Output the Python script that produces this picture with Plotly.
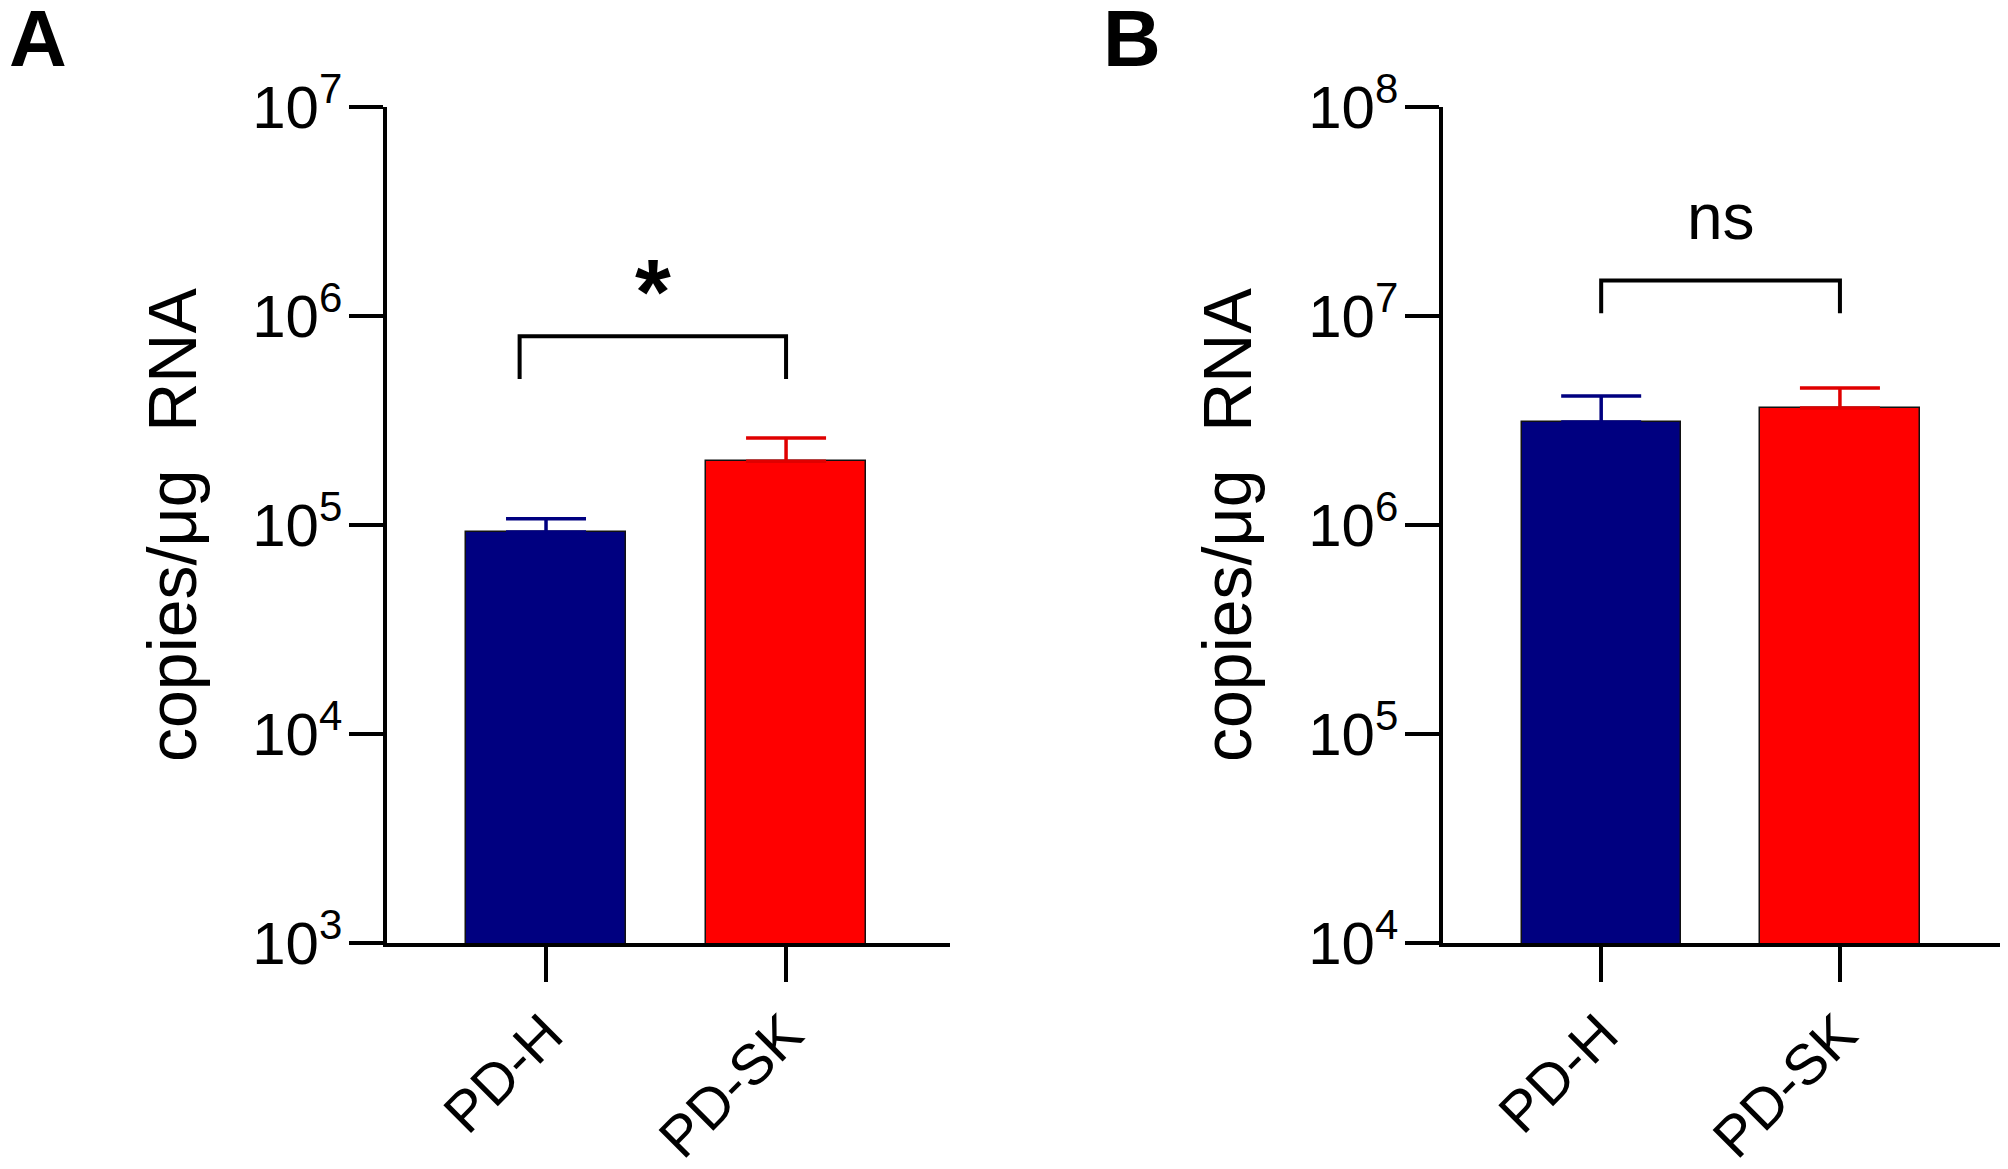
import math
import plotly.graph_objects as go

# ---- data ----
categories = ["PD-H", "PD-SK"]
colors = ["#000080", "#ff0000"]
err_colors = ["#000080", "#e00000"]

a_means = [92500, 202000]
a_upper = [107000, 261000]
b_means = [3.11e6, 3.63e6]
b_upper = [4.14e6, 4.53e6]

a_tickvals = [1e3, 1e4, 1e5, 1e6, 1e7]
a_ticktext = ["10<sup>3</sup>", "10<sup>4</sup>", "10<sup>5</sup>", "10<sup>6</sup>", "10<sup>7</sup>"]
b_tickvals = [1e4, 1e5, 1e6, 1e7, 1e8]
b_ticktext = ["10<sup>4</sup>", "10<sup>5</sup>", "10<sup>6</sup>", "10<sup>7</sup>", "10<sup>8</sup>"]

# significance brackets: [x_left, x_right], [top level, leg-bottom level], label, label level
a_bracket_x = [-0.11, 1.0]
a_bracket_y = [8.0e5, 5.0e5]
a_sig_label = "*"
a_sig_y = 1.30e6
b_bracket_x = [0.0, 1.0]
b_bracket_y = [1.48e7, 1.03e7]
b_sig_label = "ns"
b_sig_y = 2.98e7

# page has an 8px body margin: figure pixel = reference pixel - OFF
OFF = 8
W, H = 2008 - OFF, 1169 - OFF
FONT = "Arial, Liberation Sans, Helvetica, sans-serif"

def px_x(p):
    return (p - OFF) / W

def px_y(p):
    return 1 - (p - OFF) / H

fig = go.Figure()

def add_panel(means, upper, xa, ya):
    for i, (m, u) in enumerate(zip(means, upper)):
        fig.add_trace(go.Bar(
            x=[i], y=[m], width=0.667,
            marker=dict(color=colors[i], line=dict(color="#111111", width=1.5)),
            error_y=dict(type="data", symmetric=False, array=[u - m], arrayminus=[0],
                         color=err_colors[i], thickness=3.5, width=40),
            xaxis=xa, yaxis=ya, showlegend=False, hoverinfo="skip",
        ))

add_panel(a_means, a_upper, "x", "y")
add_panel(b_means, b_upper, "x2", "y2")

def bracket(bx, by, xa, ya):
    fig.add_trace(go.Scatter(
        x=[bx[0], bx[0], bx[1], bx[1]], y=[by[1], by[0], by[0], by[1]],
        mode="lines", line=dict(color="black", width=4),
        xaxis=xa, yaxis=ya, showlegend=False, hoverinfo="skip",
    ))

bracket(a_bracket_x, a_bracket_y, "x", "y")
bracket(b_bracket_x, b_bracket_y, "x2", "y2")

xdomA = [px_x(387), px_x(950)]
xdomB = [px_x(1443), px_x(2003)]
ydom = [px_y(943), px_y(107)]

common_x = dict(
    tickmode="array", tickvals=[0, 1], ticktext=categories,
    range=[-0.6625, 1.683], showline=True, linecolor="black", linewidth=3.5,
    ticks="outside", ticklen=35, tickwidth=3.5, tickcolor="black",
    tickangle=-45, tickfont=dict(family=FONT, size=57, color="black"),
    ticklabelstandoff=-4,
    showgrid=False, zeroline=False, fixedrange=True, automargin=False,
)
common_y = dict(
    type="log", showline=True, linecolor="black", linewidth=3.5,
    ticks="outside", ticklen=34, tickwidth=3.5, tickcolor="black",
    tickfont=dict(family=FONT, size=60, color="black"),
    ticklabelstandoff=-5,
    showgrid=False, zeroline=False, fixedrange=True, automargin=False,
)

fig.update_layout(
    width=W, height=H, margin=dict(l=0, r=0, t=0, b=0, pad=0, autoexpand=False),
    paper_bgcolor="white", plot_bgcolor="white",
    barmode="overlay", bargap=0,
    xaxis=dict(domain=xdomA, anchor="y", **common_x),
    xaxis2=dict(domain=xdomB, anchor="y2", **common_x),
    yaxis=dict(domain=ydom, anchor="x", range=[3, 7], tickvals=a_tickvals, ticktext=a_ticktext, **common_y),
    yaxis2=dict(domain=ydom, anchor="x2", range=[4, 8], tickvals=b_tickvals, ticktext=b_ticktext, **common_y),
)

ytitle = "copies/\u03bcg\u00a0\u00a0RNA"
annotations = [
    dict(text="<b>A</b>", x=px_x(7), y=px_y(-8), xref="paper", yref="paper", xanchor="left", yanchor="top",
         showarrow=False, font=dict(family=FONT, size=80, color="black")),
    dict(text="<b>B</b>", x=px_x(1101), y=px_y(-8), xref="paper", yref="paper", xanchor="left", yanchor="top",
         showarrow=False, font=dict(family=FONT, size=80, color="black")),
    dict(text=ytitle, x=px_x(172), y=px_y(525), xref="paper", yref="paper", xanchor="center", yanchor="middle",
         textangle=-90, showarrow=False, font=dict(family=FONT, size=68, color="black")),
    dict(text=ytitle, x=px_x(172 + 1055), y=px_y(525), xref="paper", yref="paper", xanchor="center", yanchor="middle",
         textangle=-90, showarrow=False, font=dict(family=FONT, size=68, color="black")),
    dict(text="<b>" + a_sig_label + "</b>", x=sum(a_bracket_x) / 2, y=math.log10(a_sig_y), xref="x", yref="y",
         xanchor="center", yanchor="middle", showarrow=False, font=dict(family=FONT, size=92, color="black")),
    dict(text=b_sig_label, x=sum(b_bracket_x) / 2, y=math.log10(b_sig_y), xref="x2", yref="y2",
         xanchor="center", yanchor="middle", showarrow=False, font=dict(family=FONT, size=64, color="black")),
]
fig.update_layout(annotations=annotations)

fig.write_html("out.html")
